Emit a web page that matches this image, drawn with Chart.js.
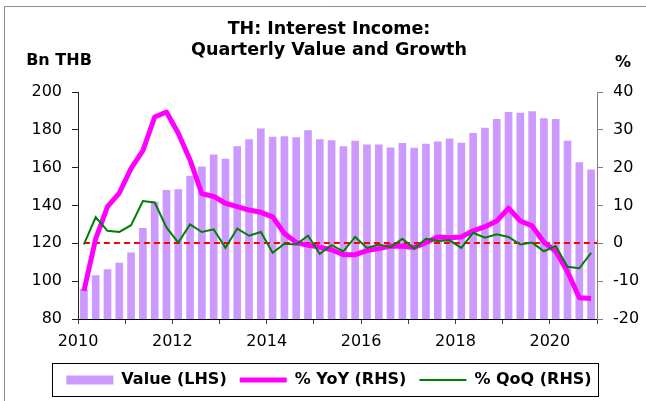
<!DOCTYPE html>
<html>
<head>
<meta charset="utf-8">
<script src="https://cdn.jsdelivr.net/npm/chart.js@4"></script>
<style>
  html, body { margin: 0; padding: 0; background: #fff; }
  #wrap { width: 646px; height: 401px; position: relative; }
</style>
</head>
<body>
<div id="wrap"><canvas id="chart"></canvas></div>
<script>
// quarters 2010Q1 .. 2020Q4
const years = [2010, 2011, 2012, 2013, 2014, 2015, 2016, 2017, 2018, 2019, 2020];
const quarters = [1, 2, 3, 4];

// Value, Bn THB (LHS)
const valueLHS = [95.7, 102.9, 106.1, 109.5, 115, 127.9, 141.8, 148, 148.4, 155.5, 160.5,
    166.8, 164.6, 171.2, 174.8, 180.5, 176.2, 176.4, 175.9, 179.6, 174.8, 174.3, 171.1,
    174.1, 172.1, 172.1, 170.5, 172.9, 170.4, 172.5, 173.6, 175.2, 173, 178.2, 180.9,
    185.5, 189.3, 188.9, 189.7, 185.9, 185.5, 174.1, 162.7, 158.8];

// % YoY (RHS)
const yoyRHS = [-12.6, 1.2, 9.7, 13.3, 19.8, 24.5, 33.4, 34.7, 29.1, 22, 13.1,
    12.4, 10.6, 9.7, 8.8, 8.2, 7, 2.6, 0.2, -0.5, -1, -1.7, -3,
    -3, -1.9, -1.4, -0.7, -0.8, -1.1, 0.2, 1.7, 1.5, 1.7, 3.3, 4.4,
    5.9, 9.3, 5.9, 4.6, 0.3, -2.1, -7.5, -14.4, -14.6];

// % QoQ (RHS)
const qoqRHS = [-0.3, 6.9, 3.3, 3, 4.8, 11.2, 10.8, 4.2, 0.2, 5, 3,
    3.7, -1.2, 3.9, 2, 3, -2.5, -0.1, -0.3, 2, -2.8, -0.5, -2.1,
    1.7, -1.2, -0.3, -1, 1.2, -1.4, 1.2, 0.6, 0.8, -1.2, 2.8, 1.5,
    2.4, 1.7, -0.3, 0.2, -2.1, -0.7, -6.2, -6.6, -2.5];

const leftTicks = { min: 80, max: 200, step: 20 };
const rightTicks = { min: -20, max: 40, step: 10 };
const yearRange = { min: 2010, max: 2021 };

// each quarter sits in the middle of its quarter-year slot
const quarterPos = [];
years.forEach(y => quarters.forEach(q => quarterPos.push(y + (q - 0.5) / 4)));

const toPoints = arr => arr.map((v, i) => ({ x: quarterPos[i], y: v }));

Chart.defaults.font.family = 'DejaVu Sans';
Chart.defaults.color = '#000';

// frame, axis unit labels, zero line and legend box
const extras = {
    id: 'extras',
    beforeDraw(chart) {
        const ctx = chart.ctx;
        ctx.save();
        ctx.strokeStyle = '#8c8c8c';
        ctx.lineWidth = 1;
        ctx.beginPath();
        ctx.moveTo(4.5, chart.height);
        ctx.lineTo(4.5, 6.5);
        ctx.lineTo(chart.width, 6.5);
        ctx.stroke();
        ctx.restore();
    },
    afterDatasetDraw(chart, args) {
        if (args.index !== 0) return;
        const ctx = chart.ctx;
        const x = chart.scales.x;
        const y1 = chart.scales.y1;
        const yz = Math.round(y1.getPixelForValue(0));
        ctx.save();
        ctx.strokeStyle = '#ff0000';
        ctx.lineWidth = 2;
        ctx.setLineDash([6, 4]);
        ctx.beginPath();
        ctx.moveTo(x.getPixelForValue(quarterPos[0]), yz);
        ctx.lineTo(chart.chartArea.right, yz);
        ctx.stroke();
        ctx.restore();
    },
    afterDraw(chart) {
        const ctx = chart.ctx;
        const area = chart.chartArea;
        ctx.save();
        ctx.fillStyle = '#000';
        ctx.font = 'bold 16px "DejaVu Sans"';
        ctx.textAlign = 'center';
        ctx.textBaseline = 'middle';
        ctx.fillText('Bn THB', area.left - 19, area.top - 31);
        ctx.fillText('%', area.right + 26, area.top - 29);

        const boxes = chart.legend.legendHitBoxes;
        if (boxes && boxes.length) {
            const l = Math.min(...boxes.map(b => b.left)) - 14;
            const r = Math.max(...boxes.map(b => b.left + b.width)) + 7;
            const cy = boxes[0].top + boxes[0].height / 2;
            ctx.strokeStyle = '#000';
            ctx.lineWidth = 1;
            ctx.strokeRect(Math.round(l) + 0.5, Math.round(cy - 17) + 0.5, Math.round(r - l), 33);
        }
        ctx.restore();
    }
};

new Chart(document.getElementById('chart'), {
    data: {
        datasets: [
            {
                type: 'bar',
                label: 'Value (LHS)',
                data: toPoints(valueLHS),
                yAxisID: 'y',
                backgroundColor: '#cc99ff',
                borderWidth: 0,
                barThickness: 7,
                pointStyle: 'rect',
                order: 3
            },
            {
                type: 'line',
                label: '% YoY (RHS)',
                data: toPoints(yoyRHS),
                yAxisID: 'y1',
                borderColor: '#ff00ff',
                backgroundColor: '#ff00ff',
                borderWidth: 5,
                borderJoinStyle: 'round',
                pointRadius: 0,
                pointStyle: 'line',
                tension: 0,
                order: 2
            },
            {
                type: 'line',
                label: '% QoQ (RHS)',
                data: toPoints(qoqRHS),
                yAxisID: 'y1',
                borderColor: '#008000',
                backgroundColor: '#008000',
                borderWidth: 2,
                pointRadius: 0,
                pointStyle: 'line',
                tension: 0,
                order: 1
            }
        ]
    },
    options: {
        responsive: true,
        maintainAspectRatio: false,
        animation: false,
        layout: { padding: { left: 12, right: 0, top: 0, bottom: 3 } },
        scales: {
            x: {
                type: 'linear',
                offset: false,
                min: yearRange.min,
                max: yearRange.max,
                afterFit: s => { s.height = 40; },
                ticks: {
                    stepSize: 1,
                    padding: 8,
                    maxRotation: 0,
                    autoSkip: false,
                    font: { size: 16 },
                    callback: v => (v % 2 === 0 ? String(v) : '')
                },
                grid: { offset: false, drawOnChartArea: false, drawTicks: true, tickLength: 5, color: '#444' },
                border: { display: true, color: '#000', width: 1 }
            },
            y: {
                position: 'left',
                min: leftTicks.min,
                max: leftTicks.max,
                afterFit: s => { s.width = 66; },
                ticks: { stepSize: leftTicks.step, padding: 10, font: { size: 16 } },
                grid: { drawOnChartArea: false, drawTicks: true, tickLength: 6, color: '#222' },
                border: { display: true, color: '#222', width: 1 }
            },
            y1: {
                position: 'right',
                min: rightTicks.min,
                max: rightTicks.max,
                afterFit: s => { s.width = 49; },
                ticks: { stepSize: rightTicks.step, padding: 10, font: { size: 16 } },
                grid: { drawOnChartArea: false, drawTicks: true, tickLength: 6, color: '#808080' },
                border: { display: true, color: '#808080', width: 1 }
            }
        },
        plugins: {
            title: {
                display: true,
                text: ['TH: Interest Income:', 'Quarterly Value and Growth'],
                font: { size: 17.5, weight: 'bold', lineHeight: 1.2 },
                color: '#000',
                padding: { top: 19, bottom: 31 }
            },
            legend: {
                position: 'bottom',
                labels: {
                    usePointStyle: true,
                    pointStyleWidth: 47,
                    boxHeight: 9,
                    padding: 13,
                    font: { size: 16, weight: 'bold' },
                    color: '#000',
                    sort: (a, b) => a.datasetIndex - b.datasetIndex
                }
            },
            tooltip: { enabled: false }
        }
    },
    plugins: [extras]
});
</script>
</body>
</html>
